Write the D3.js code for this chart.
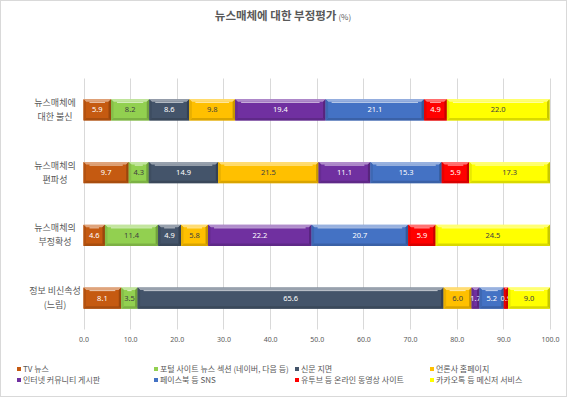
<!DOCTYPE html>
<html>
<head>
<meta charset="utf-8">
<script src="https://cdn.jsdelivr.net/npm/d3@7"></script>
<style>
  body { margin: 0; background: #fff; }
  svg { display: block; font-family: "Noto Sans CJK KR", "Noto Sans", sans-serif; }
</style>
</head>
<body>
<div id="chart"></div>
<script>
// categories, top to bottom
const categories = ['뉴스매체에\n대한 불신', '뉴스매체의\n편파성', '뉴스매체의\n부정확성', '정보 비신속성\n(느림)'];

const seriesNames = [
    'TV 뉴스', '포털 사이트 뉴스 섹션 (네이버, 다음 등)', '신문 지면', '언론사 홈페이지',
    '인터넷 커뮤니티 게시판', '페이스북 등 SNS', '유투브 등 온라인 동영상 사이트', '카카오톡 등 메신저 서비스'
];
const seriesColors = ['#C55A11', '#92D050', '#44546A', '#FFC000', '#7030A0', '#4472C4', '#FF0000', '#FFFF00'];
const darkLabel = [false, true, false, true, false, false, false, true];

// values per series, one per category
const tvNews     = [5.9, 9.7, 4.6, 8.1];
const portal     = [8.2, 4.3, 11.4, 3.5];
const newspaper  = [8.6, 14.9, 4.9, 65.6];
const pressHome  = [9.8, 21.5, 5.8, 6.0];
const community  = [19.4, 11.1, 22.2, 1.7];
const facebook   = [21.1, 15.3, 20.7, 5.2];
const youtube    = [4.9, 5.9, 5.9, 0.9];
const kakao      = [22.0, 17.3, 24.5, 9.0];
const seriesValues = [tvNews, portal, newspaper, pressHome, community, facebook, youtube, kakao];

const xTicks = [0, 10, 20, 30, 40, 50, 60, 70, 80, 90, 100];

const width = 567, height = 397;
const textColor = '#595959';

const svg = d3.select('#chart').append('svg')
    .attr('width', width)
    .attr('height', height);

svg.append('rect')
    .attr('x', 0.5).attr('y', 0.5)
    .attr('width', width - 1).attr('height', height - 1)
    .attr('fill', '#fff')
    .attr('stroke', '#D9D9D9');

// title
const title = svg.append('text')
    .attr('x', 283).attr('y', 20)
    .attr('text-anchor', 'middle')
    .attr('fill', textColor);
title.append('tspan').attr('font-size', 11.5).attr('font-weight', 'bold').text('뉴스매체에 대한 부정평가');
title.append('tspan').attr('font-size', 8).attr('dx', 2).text('(%)');

const x = d3.scaleLinear()
    .domain([0, 100])
    .range([83.5, 550]);

const y = d3.scaleBand()
    .domain(categories)
    .range([78.5, 329.5])
    .paddingInner(0.665)
    .paddingOuter(0.3325);

// gridlines
svg.append('g')
    .selectAll('line')
    .data(xTicks)
    .enter()
    .append('line')
    .attr('x1', d => Math.round(x(d)) + 0.5)
    .attr('x2', d => Math.round(x(d)) + 0.5)
    .attr('y1', 78.5)
    .attr('y2', 329.5)
    .attr('stroke', '#D9D9D9')
    .attr('stroke-width', 1);

// x axis labels
const xAxis = d3.axisBottom(x)
    .tickValues(xTicks)
    .tickFormat(d => d.toFixed(1))
    .tickSize(0)
    .tickPadding(8);

const xg = svg.append('g')
    .attr('transform', 'translate(0,329.5)')
    .call(xAxis);
xg.select('.domain').remove();
xg.selectAll('text')
    .attr('font-size', 7)
    .attr('fill', textColor)
    .attr('font-family', '"Noto Sans", sans-serif');

// y category labels
const yLabels = svg.append('g');
categories.forEach(c => {
    const lines = c.split('\n');
    const cy = y(c) + y.bandwidth() / 2;
    const t = yLabels.append('text')
        .attr('text-anchor', 'middle')
        .attr('font-size', 9)
        .attr('fill', textColor);
    lines.forEach((l, i) => {
        t.append('tspan')
            .attr('x', 55)
            .attr('y', cy + (i - (lines.length - 1) / 2) * 14 + 3)
            .text(l);
    });
});

// stacked segments
function shade(color, k) {
    const c = d3.rgb(color);
    return k > 0 ? d3.interpolateRgb(c, '#fff')(k) : c.darker(-k).formatHex();
}

const stackData = categories.map((c, ci) => {
    let acc = 0;
    return seriesValues.map((vals, si) => {
        const v = vals[ci];
        const seg = { cat: c, series: si, x0: acc, x1: acc + v, value: v };
        acc += v;
        return seg;
    });
}).flat();

const seg = svg.append('g')
    .selectAll('g')
    .data(stackData)
    .enter()
    .append('g');

const bw = y.bandwidth();
const bev = 2.5;

seg.append('rect')
    .attr('x', d => x(d.x0))
    .attr('y', d => y(d.cat))
    .attr('width', d => x(d.x1) - x(d.x0))
    .attr('height', bw)
    .attr('fill', d => seriesColors[d.series]);

// bevel: top light, bottom dark, sides darker
seg.append('polygon')
    .attr('points', d => {
        const a = x(d.x0), b = x(d.x1), t = y(d.cat);
        const e = Math.min(bev, (b - a) / 2);
        return [[a, t], [b, t], [b - e, t + bev], [a + e, t + bev]].join(' ');
    })
    .attr('fill', d => shade(seriesColors[d.series], 0.45));

seg.append('line')
    .attr('x1', d => x(d.x0) + Math.min(6, (x(d.x1) - x(d.x0)) / 2))
    .attr('x2', d => x(d.x1) - Math.min(6, (x(d.x1) - x(d.x0)) / 2))
    .attr('y1', d => y(d.cat) + bev + 0.5)
    .attr('y2', d => y(d.cat) + bev + 0.5)
    .attr('stroke', d => shade(seriesColors[d.series], 0.7))
    .attr('stroke-width', 1);

seg.append('polygon')
    .attr('points', d => {
        const a = x(d.x0), b = x(d.x1), t = y(d.cat) + bw;
        const e = Math.min(bev, (b - a) / 2);
        return [[a, t], [b, t], [b - e, t - bev], [a + e, t - bev]].join(' ');
    })
    .attr('fill', d => shade(seriesColors[d.series], -0.45));

seg.append('polygon')
    .attr('points', d => {
        const a = x(d.x0), b = x(d.x1), t = y(d.cat);
        const e = Math.min(bev, (b - a) / 2);
        return [[a, t], [a + e, t + bev], [a + e, t + bw - bev], [a, t + bw]].join(' ');
    })
    .attr('fill', d => shade(seriesColors[d.series], -0.25));

seg.append('polygon')
    .attr('points', d => {
        const a = x(d.x0), b = x(d.x1), t = y(d.cat);
        const e = Math.min(bev, (b - a) / 2);
        return [[b, t], [b - e, t + bev], [b - e, t + bw - bev], [b, t + bw]].join(' ');
    })
    .attr('fill', d => shade(seriesColors[d.series], -0.7));

// data labels
seg.append('text')
    .attr('x', d => (x(d.x0) + x(d.x1)) / 2)
    .attr('y', d => y(d.cat) + bw / 2 + 2.6)
    .attr('text-anchor', 'middle')
    .attr('font-size', 7.5)
    .attr('font-family', '"Noto Sans", sans-serif')
    .attr('fill', d => darkLabel[d.series] ? '#404040' : '#fff')
    .text(d => d.value.toFixed(1));

// legend
const legendCols = [17, 154, 295, 430];
const legendRows = [369, 380];
const legend = svg.append('g')
    .selectAll('g')
    .data(seriesNames)
    .enter()
    .append('g')
    .attr('transform', (d, i) => `translate(${legendCols[i % 4]},${legendRows[Math.floor(i / 4)]})`);

legend.append('rect')
    .attr('x', 0).attr('y', -2)
    .attr('width', 4).attr('height', 4)
    .attr('fill', (d, i) => seriesColors[i]);

legend.append('text')
    .attr('x', 6)
    .attr('y', 2.8)
    .attr('font-size', 8)
    .attr('fill', textColor)
    .text(d => d);
</script>
</body>
</html>
